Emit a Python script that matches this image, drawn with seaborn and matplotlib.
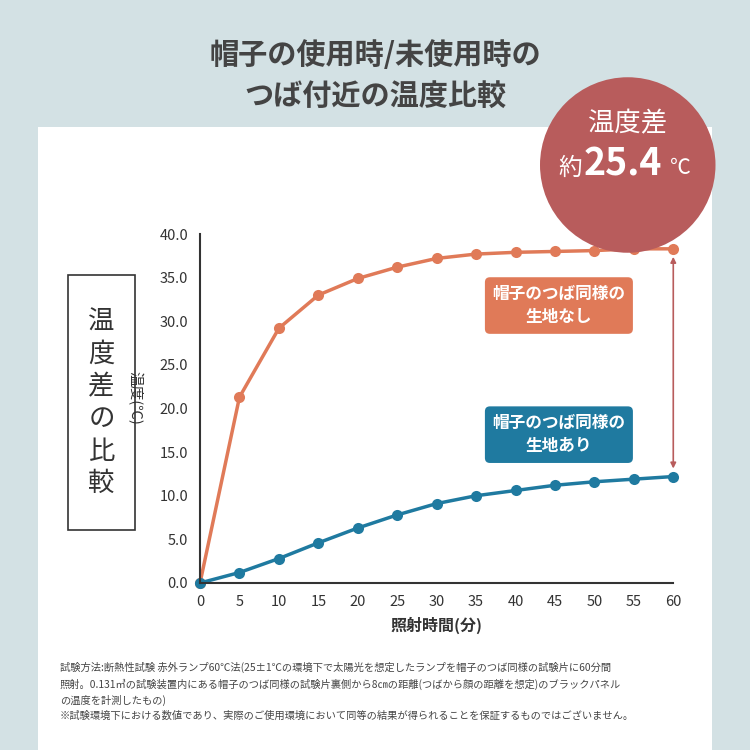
import matplotlib
matplotlib.use("Agg")
import matplotlib.pyplot as plt
import seaborn as sns
import pandas as pd
from matplotlib.patches import Rectangle, Circle

sns.set_style("white")
plt.rcParams['font.family'] = ['Noto Sans CJK JP', 'DejaVu Sans']

minutes = [0, 5, 10, 15, 20, 25, 30, 35, 40, 45, 50, 55, 60]
without_fabric = [0, 21.3, 29.2, 33.0, 34.9, 36.2, 37.2, 37.7, 37.9, 38.0, 38.1, 38.3, 38.3]
with_fabric = [0, 1.2, 2.8, 4.6, 6.3, 7.8, 9.1, 10.0, 10.6, 11.2, 11.6, 11.9, 12.2]
y_ticks = [0, 5, 10, 15, 20, 25, 30, 35, 40]

orange = "#e07a58"
blue = "#1f7aa0"
red = "#b85c5c"

df = pd.DataFrame({"min": minutes * 2,
                   "temp": without_fabric + with_fabric,
                   "grp": ["なし"] * 13 + ["あり"] * 13})

fig = plt.figure(figsize=(7.5, 7.5), dpi=100)
fig.patch.set_facecolor("#d3e1e4")
fig.patches.append(Rectangle((0.051, 0), 0.898, 0.831, transform=fig.transFigure,
                             facecolor="white", edgecolor="none", zorder=-5))

ax = fig.add_axes([0.2667, 0.2227, 0.631, 0.4653])
ax.set_facecolor("none")
sns.lineplot(data=df, x="min", y="temp", hue="grp", palette={"なし": orange, "あり": blue},
             marker="o", markersize=8, markeredgewidth=0, linewidth=2.5, legend=False, ax=ax,
             clip_on=False)
ax.set_xlim(0, 60)
ax.set_ylim(0, 40)
ax.set_xticks(minutes)
ax.set_yticks(y_ticks)
ax.set_yticklabels([f"{v:.1f}" for v in y_ticks])
for s in ["top", "right"]:
    ax.spines[s].set_visible(False)
for s in ["left", "bottom"]:
    ax.spines[s].set_color("#333333")
    ax.spines[s].set_linewidth(1.5)
ax.tick_params(axis="both", direction="out", length=5, width=1.2, labelsize=10.5, colors="#333333")
ax.set_xlabel("照射時間(分)", fontsize=11.5, fontweight="bold", color="#333333", labelpad=6)
ax.set_ylabel("")

ax.annotate("", xy=(60, with_fabric[-1] + 0.6), xytext=(60, without_fabric[-1] - 0.6),
            arrowprops=dict(arrowstyle="<|-|>", color=red, lw=1.2, mutation_scale=8))

ax.text(45.5, 31.8, "帽子のつば同様の\n生地なし", ha="center", va="center", fontsize=12,
        fontweight="bold", color="white", linespacing=1.4,
        bbox=dict(boxstyle="round,pad=0.45,rounding_size=0.3", fc=orange, ec="none"))
ax.text(45.5, 17.0, "帽子のつば同様の\n生地あり", ha="center", va="center", fontsize=12,
        fontweight="bold", color="white", linespacing=1.4,
        bbox=dict(boxstyle="round,pad=0.45,rounding_size=0.3", fc=blue, ec="none"))

fig.text(0.18, 0.47, "温度(℃)", ha="center", va="center", fontsize=10.5,
         color="#333333", rotation=-90)

fig.patches.append(Rectangle((0.091, 0.293), 0.089, 0.34, transform=fig.transFigure,
                             facecolor="none", edgecolor="#333333", lw=1.2))
fig.text(0.1355, 0.463, "温\n度\n差\nの\n比\n較", ha="center", va="center", fontsize=19,
         color="#333333", linespacing=1.25)

fig.text(0.5, 0.9, "帽子の使用時/未使用時の\nつば付近の温度比較", ha="center", va="center",
         fontsize=21, fontweight="bold", color="#444444", linespacing=1.45)

fig.patches.append(Circle((0.837, 0.78), 0.117, transform=fig.transFigure,
                          facecolor=red, edgecolor="none", zorder=5))
fig.text(0.837, 0.835, "温度差", ha="center", va="center", fontsize=19, color="white", zorder=6)
fig.text(0.745, 0.776, "約", ha="left", va="center", fontsize=17, color="white", zorder=6)
fig.text(0.778, 0.782, "25.4", ha="left", va="center", fontsize=27, fontweight="bold",
         color="white", zorder=6)
fig.text(0.893, 0.776, "℃", ha="left", va="center", fontsize=15, color="white", zorder=6)

note = ("試験方法:断熱性試験 赤外ランプ60℃法(25±1℃の環境下で太陽光を想定したランプを帽子のつば同様の試験片に60分間\n"
        "照射。0.131㎥の試験装置内にある帽子のつば同様の試験片裏側から8㎝の距離(つばから顔の距離を想定)のブラックパネル\n"
        "の温度を計測したもの)\n"
        "※試験環境下における数値であり、実際のご使用環境において同等の結果が得られることを保証するものではございません。")
fig.text(0.08, 0.078, note, ha="left", va="center", fontsize=7.4, color="#444444", linespacing=1.6)

fig.savefig("out.png", dpi=100)
